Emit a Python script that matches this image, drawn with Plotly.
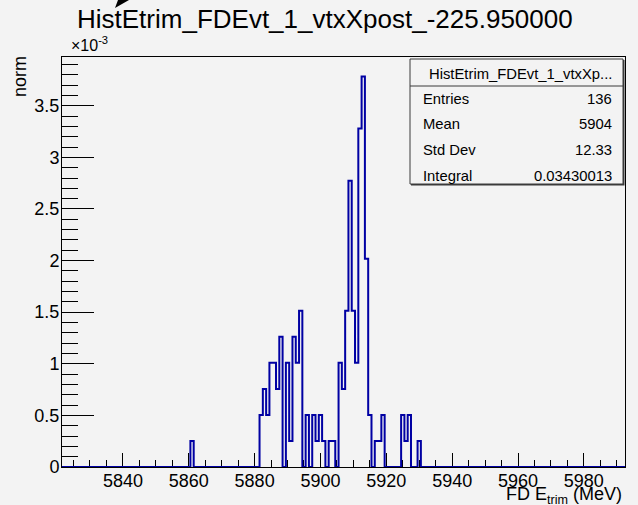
import numpy as np
import plotly.graph_objects as go

# ---- histogram definition: FD E_trim at vtxXpost = -225.95, 1 MeV bins ----
hist_name = "HistEtrim_FDEvt_1_vtxXpost_-225.950000"
stats_title = "HistEtrim_FDEvt_1_vtxXp..."
x_low, x_high = 5821.5, 5992.5
bin_width = 1.0

# centres (MeV) of the non-empty bins and the number of entries in each
bin_centres = [5861,
               5882, 5883, 5884, 5885, 5886, 5887, 5888, 5890, 5891, 5892,
               5893, 5894, 5896, 5898, 5899, 5900, 5901, 5903, 5904, 5906,
               5907, 5908, 5909, 5910, 5911, 5912, 5913, 5914, 5915, 5917,
               5918, 5919, 5925, 5926, 5927, 5930]
bin_entries = [1,
               2, 3, 2, 4, 4, 3, 5, 4, 1, 5,
               4, 6, 2, 2, 1, 2, 1, 1, 1, 4,
               3, 6, 11, 6, 4, 13, 15, 8, 2, 1,
               1, 2, 2, 1, 2, 1]

integral = 0.03430013          # histogram normalised to this integral

x_tick_values = [5840, 5860, 5880, 5900, 5920, 5940, 5960, 5980]
y_tick_values = [0, 0.5e-3, 1.0e-3, 1.5e-3, 2.0e-3, 2.5e-3, 3.0e-3, 3.5e-3]
y_tick_text = ["0", "0.5", "1", "1.5", "2", "2.5", "3", "3.5"]

# ---- fill the binned contents ----
edges = np.arange(x_low, x_high + bin_width / 2, bin_width)
counts = np.zeros(len(edges) - 1)
for c, n in zip(bin_centres, bin_entries):
    counts[int(np.floor((c - x_low) / bin_width))] += n
n_entries = int(counts.sum())
weight = integral / n_entries
contents = counts * weight
centres = 0.5 * (edges[:-1] + edges[1:])
mean = np.sum(centres * counts) / n_entries
std = np.sqrt(np.sum(counts * (centres - mean) ** 2) / n_entries)
y_top = 1.05 * contents.max()

# ---- canvas geometry (pixels) ----
W, H = 638, 505
L, R, T, B = 62, 13, 57, 38
X0, X1 = L, W - R
Y1, Y0 = T, H - B


def px(x):
    return (x - X0) / (X1 - X0)


def py(y):
    return (Y0 - y) / (Y0 - Y1)


FONT = "Liberation Sans, Arial, Helvetica, sans-serif"
BG = "#f3f3f3"
LINE_BLUE = "#0000a3"

fig = go.Figure()
fig.add_trace(go.Scatter(
    x=edges,
    y=np.append(contents, contents[-1]),
    mode="lines",
    line=dict(shape="hv", color=LINE_BLUE, width=2),
    hoverinfo="skip",
    showlegend=False,
))

fig.update_layout(
    width=W, height=H, autosize=False,
    margin=dict(l=L, r=R, t=T, b=B, pad=0),
    paper_bgcolor=BG, plot_bgcolor=BG,
    font=dict(family=FONT, color="black", size=18),
    showlegend=False,
    xaxis=dict(
        range=[x_low, x_high], showgrid=False, zeroline=False,
        showline=True, mirror=True, linecolor="black", linewidth=1,
        tickmode="array", tickvals=x_tick_values,
        ticks="inside", ticklen=14, tickwidth=1, tickcolor="black",
        tickfont=dict(family=FONT, size=18), ticklabelstandoff=-3,
        minor=dict(tickmode="linear", tick0=5820, dtick=5, ticks="inside",
                   ticklen=7, tickwidth=1, tickcolor="black", showgrid=False),
        layer="below traces",
    ),
    yaxis=dict(
        range=[0, y_top], showgrid=False, zeroline=False,
        showline=True, mirror=True, linecolor="black", linewidth=1,
        tickmode="array", tickvals=y_tick_values, ticktext=y_tick_text,
        ticks="inside", ticklen=32, tickwidth=1, tickcolor="black",
        tickfont=dict(family=FONT, size=18), ticklabelstandoff=-2,
        minor=dict(tickmode="linear", tick0=0, dtick=1e-4, ticks="inside",
                   ticklen=16, tickwidth=1, tickcolor="black", showgrid=False),
        layer="below traces",
    ),
)

annotations = [
    # histogram title
    dict(text=hist_name, x=px(324.5), y=py(19), xanchor="center", yanchor="middle",
         font=dict(size=26)),
    # exponent of the y axis
    dict(text="×10<sup>-3</sup>", x=px(69), y=py(44), xanchor="left", yanchor="middle",
         font=dict(size=16)),
    # axis titles
    dict(text="norm", x=px(20), y=py(77), xanchor="center", yanchor="middle",
         textangle=-90, font=dict(size=18)),
    dict(text="FD E<sub>trim</sub> (MeV)", x=px(624), y=py(495), xanchor="right",
         yanchor="middle", font=dict(size=18)),
]

# statistics box
box_l, box_r, box_t, box_b = 410, 623, 59, 184
sep_y = 86
shapes = [
    dict(type="rect", xref="paper", yref="paper",
         x0=px(box_l + 1), x1=px(box_r + 1.5), y0=py(box_t + 1), y1=py(box_b + 1.5),
         line=dict(width=0), fillcolor="#3a3a3a", layer="above"),
    dict(type="rect", xref="paper", yref="paper",
         x0=px(box_l), x1=px(box_r), y0=py(box_t), y1=py(box_b),
         line=dict(color="#3a3a3a", width=1), fillcolor=BG, layer="above"),
    dict(type="line", xref="paper", yref="paper",
         x0=px(box_l), x1=px(box_r), y0=py(sep_y), y1=py(sep_y),
         line=dict(color="#3a3a3a", width=1), layer="above"),
    # small black pointer mark above the title
    dict(type="path", xref="paper", yref="paper",
         path=f"M {px(118)} {py(0)} L {px(129)} {py(0)} L {px(115)} {py(8)} Z",
         fillcolor="black", line=dict(width=0), layer="above"),
]

annotations.append(dict(text=stats_title, x=px(520), y=py(74), xanchor="center",
                        yanchor="middle", font=dict(size=14.8)))
stats_rows = [
    ("Entries", f"{n_entries}", 98.5),
    ("Mean", f"{mean:.4g}", 124),
    ("Std Dev", f"{std:.4g}", 150),
    ("Integral", f"{contents.sum():.7g}", 175.5),
]
for label, value, yc in stats_rows:
    annotations.append(dict(text=label, x=px(421), y=py(yc), xanchor="left",
                            yanchor="middle", font=dict(size=14.8)))
    annotations.append(dict(text=value, x=px(614), y=py(yc), xanchor="right",
                            yanchor="middle", font=dict(size=14.8)))

for a in annotations:
    a.setdefault("xref", "paper")
    a.setdefault("yref", "paper")
    a.setdefault("showarrow", False)

fig.update_layout(annotations=annotations, shapes=shapes)
fig.write_html("out.html")
